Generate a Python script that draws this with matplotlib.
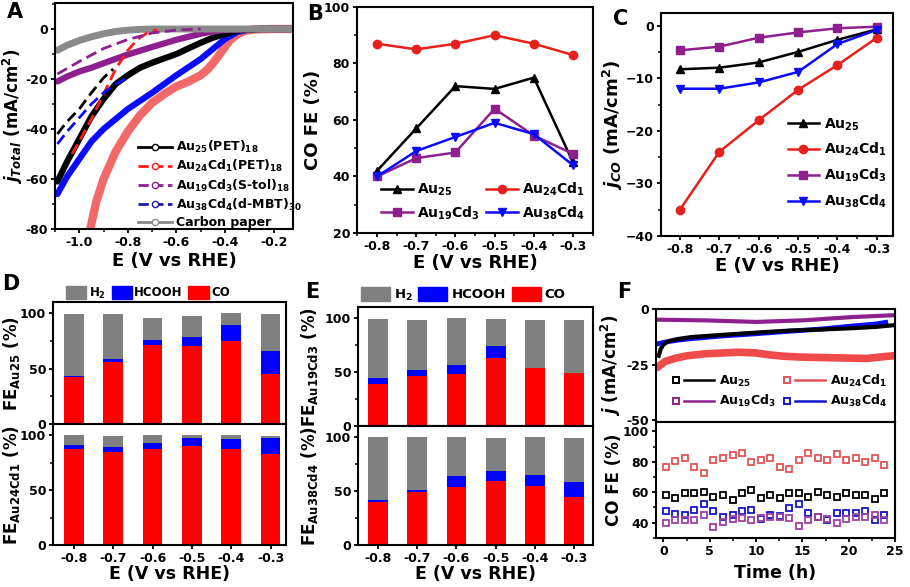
import matplotlib
matplotlib.use('Agg')
import matplotlib.pyplot as plt
import numpy as np
from matplotlib.ticker import MultipleLocator
from matplotlib.lines import Line2D
from matplotlib.patches import Patch
from matplotlib.legend_handler import HandlerBase

plt.rcParams.update({
    'font.family': 'DejaVu Sans',
    'font.weight': 'bold',
    'axes.labelweight': 'bold',
    'mathtext.fontset': 'custom',
    'mathtext.rm': 'DejaVu Sans:bold',
    'mathtext.bf': 'DejaVu Sans:bold',
    'mathtext.it': 'DejaVu Sans:bold:italic',
    'mathtext.default': 'bf',
    'axes.linewidth': 1.5,
    'xtick.major.width': 1.3, 'ytick.major.width': 1.3,
    'xtick.minor.width': 1.1, 'ytick.minor.width': 1.1,
    'xtick.major.size': 3, 'ytick.major.size': 3,
    'xtick.minor.size': 2, 'ytick.minor.size': 2,
    'xtick.major.pad': 2, 'ytick.major.pad': 2,
    'xtick.labelsize': 9, 'ytick.labelsize': 9,
})

# ---- colours
BLACK = 'black'
RED = '#ff1a1a'
PURPLE = '#8e1f8e'
BLUE = '#0a0aff'
GRAY = '#8a8a8a'

# ---- panel A: LSV curves (E in V, j in mA/cm2)
a_e_au25 = [-1.09, -1.05, -1.0, -0.95, -0.9, -0.85, -0.8, -0.75, -0.7, -0.6, -0.5, -0.45, -0.4, -0.35, -0.3, -0.25, -0.12]
a_j_au25 = [-61, -53, -44, -35, -28, -22, -18.5, -15.5, -13.5, -10, -5.5, -3.5, -2, -0.7, -0.2, 0, 0]
a_e_au24 = [-0.955, -0.93, -0.9, -0.85, -0.8, -0.75, -0.7, -0.65, -0.6, -0.55, -0.5, -0.47, -0.44, -0.41, -0.38, -0.35, -0.32, -0.28, -0.2, -0.12]
a_j_au24 = [-80, -69, -60, -49, -41, -34.5, -29.5, -26, -23, -21, -18.5, -16, -12.5, -8.5, -4.5, -2.2, -0.8, -0.2, 0, 0]
a_e_au19 = [-1.09, -1.05, -1.0, -0.95, -0.9, -0.8, -0.7, -0.6, -0.5, -0.45, -0.4, -0.3, -0.12]
a_j_au19 = [-21, -19, -17, -15.5, -13.7, -10.2, -7.2, -4.3, -1.9, -1, -0.4, 0, 0]
a_e_au38 = [-1.09, -1.05, -1.0, -0.95, -0.9, -0.85, -0.8, -0.7, -0.6, -0.5, -0.45, -0.4, -0.35, -0.3, -0.25, -0.12]
a_j_au38 = [-66, -59, -52, -45, -40, -36, -32, -25.5, -18.5, -12, -8, -4, -1.2, -0.2, 0, 0]
a_e_cp = [-1.09, -1.05, -1.0, -0.95, -0.9, -0.85, -0.8, -0.75, -0.7, -0.12]
a_j_cp = [-8.5, -6.5, -4.6, -3.1, -1.9, -1.0, -0.45, -0.15, 0, 0]
# thin dashed traces
a_e_au25_d = [-1.09, -1.05, -1.0, -0.95, -0.9, -0.86]
a_j_au25_d = [-42, -37, -32, -25.5, -19.5, -16]
a_e_au24_d = [-1.03, -1.0, -0.95, -0.9, -0.85, -0.8, -0.76, -0.72, -0.68]
a_j_au24_d = [-50, -45, -36, -26, -16, -8.5, -4.2, -1.5, -0.3]
a_e_au19_d = [-1.09, -1.0, -0.9, -0.8, -0.7, -0.6, -0.5]
a_j_au19_d = [-18, -13, -7.8, -4.2, -1.6, -0.4, 0]
a_e_au38_d = [-1.09, -1.05, -1.0, -0.95, -0.9, -0.85, -0.81]
a_j_au38_d = [-46, -41, -35.5, -30, -25.5, -22, -20]

# ---- panels B-E: potentials
potentials = [-0.8, -0.7, -0.6, -0.5, -0.4, -0.3]
tick_labels = ['-0.8', '-0.7', '-0.6', '-0.5', '-0.4', '-0.3']

# CO faradaic efficiency (%)
fe_au25 = [42, 57, 72, 71, 75, 45]
fe_au24 = [87, 85, 87, 90, 87, 83]
fe_au19 = [40, 46.5, 48.5, 64, 54.5, 48]
fe_au38 = [40, 49, 54, 59, 55, 44]

# partial CO current density (mA/cm2)
jco_au25 = [-8.3, -8.0, -7.0, -5.0, -2.7, -0.7]
jco_au24 = [-35, -24, -18, -12.2, -7.5, -2.3]
jco_au19 = [-4.7, -4.0, -2.3, -1.3, -0.5, -0.2]
jco_au38 = [-12, -12, -10.8, -8.8, -3.5, -0.8]

# product distribution (%): CO, HCOOH, H2
d_au25_co = [42, 56, 71, 70, 74.5, 45]
d_au25_hcooh = [1, 3, 5, 8, 14.5, 21]
d_au25_h2 = [56, 40, 20, 19, 11, 33]
d_au24_co = [87, 85, 87, 90, 87, 83]
d_au24_hcooh = [4, 4, 6, 7, 9, 14]
d_au24_h2 = [9, 10, 7, 3, 4, 2]
e_au19_co = [39, 46, 48.5, 63, 54, 49]
e_au19_hcooh = [5.5, 6, 8, 11, 0, 0]
e_au19_h2 = [54, 46, 43, 25, 44, 49]
e_au38_co = [40, 49, 54, 59, 55, 44]
e_au38_hcooh = [1.5, 1.5, 10, 9.5, 10, 14]
e_au38_h2 = [58.5, 49.5, 36, 30.5, 35, 41]

# ---- panel F: stability
f_t_au25 = [-0.5, -0.3, 0, 0.5, 1.5, 3, 6, 10, 13.5, 17, 20.5, 23, 24.8]
f_j_au25 = [-21, -18, -16, -14.5, -13.5, -12.6, -11.7, -10.6, -9.7, -9.2, -8.6, -8, -7.3]
f_t_au24 = [-0.5, 0.2, 1.2, 2.5, 4.5, 8, 10, 11.5, 13, 15, 18.5, 22, 23.5, 24.8]
f_j_au24 = [-25.7, -23.5, -22.2, -21, -20.1, -19.4, -19.7, -20.6, -21.2, -21.6, -21.9, -22.2, -21.5, -21]
f_t_au19 = [-0.5, 4.5, 10, 15, 20.5, 24.8]
f_j_au19 = [-4.8, -5.1, -5.8, -5.1, -3.6, -2.8]
f_t_au38 = [-0.5, 0, 1.5, 3, 6, 10, 13.5, 17, 20.5, 23, 24]
f_j_au38 = [-15.5, -15, -14, -13.3, -12.2, -11.1, -10, -9, -7.6, -6.7, -6]

fe_time = [0.3, 1.3, 2.3, 3.35, 4.4, 5.4, 6.45, 7.5, 8.5, 9.5, 10.55, 11.55, 12.6, 13.6,
           14.65, 15.65, 16.7, 17.7, 18.7, 19.75, 20.75, 21.8, 22.8, 23.8]
fe_t_au25 = [58, 56.4, 59.6, 59.6, 60.2, 56.9, 58, 55.1, 59.6, 61.3, 56.2, 58,
             56.2, 59.6, 59.6, 56.9, 60.2, 58, 56.9, 59.6, 58, 58, 55.8, 59.6]
fe_t_au24 = [76.4, 80.2, 82.4, 76.4, 72.9, 81.3, 82.4, 84.7, 85.8, 79.8, 81.3, 82.2,
             76.4, 75.1, 81.3, 85.8, 82.4, 81.3, 85.1, 81.3, 82.4, 79.8, 82.4, 77.6]
fe_t_au19 = [39.6, 41.8, 41.8, 41.8, 45.1, 36.9, 40.2, 42.4, 42.9, 41.8, 42.9, 43.6,
             43.6, 42.9, 38, 41.8, 43.6, 42.4, 39.6, 42.4, 43.6, 43.6, 44.7, 41.8]
fe_t_au38 = [47.6, 45.8, 44.7, 48.4, 52.4, 47.6, 43.6, 45.1, 47.6, 48.4, 42.4, 45.1,
             44, 49.8, 52.4, 46.2, 43.6, 41.8, 46.2, 46.2, 46.2, 47.6, 41.8, 45.1]

W, H = 910, 587
fig = plt.figure(figsize=(W / 100, H / 100), dpi=100)


def box(left, top, right, bottom):
    return fig.add_axes([left / W, 1 - bottom / H, (right - left) / W, (bottom - top) / H])


def anchor(x, y):
    return (x / W, 1 - y / H)


def style(ax):
    ax.tick_params(which='both', direction='out', top=False, right=False)


class MarkerThenLine(HandlerBase):
    # open square on the left, line on the right (panel F legend)
    def create_artists(self, legend, orig, xd, yd, w, h, fs, trans):
        y = h / 2 - yd
        c = orig.get_color()
        m = Line2D([-xd + 0.12 * w], [y], ls='none', marker='s', ms=5,
                   mfc='none', mec=c, mew=1.4, transform=trans)
        l = Line2D([-xd + 0.3 * w, -xd + w], [y, y], color=c, lw=1.8, transform=trans)
        return [m, l]


# ================= A
axA = box(55, 3, 293, 229)
style(axA)
axA.plot(a_e_au24, a_j_au24, color='#f36868', lw=6, solid_capstyle='round')
axA.plot(a_e_au38, a_j_au38, color=BLUE, lw=4.5, solid_capstyle='round')
axA.plot(a_e_au25, a_j_au25, color=BLACK, lw=4.5, solid_capstyle='round')
axA.plot(a_e_au19, a_j_au19, color=PURPLE, lw=4.5, solid_capstyle='round')
axA.plot(a_e_cp, a_j_cp, color=GRAY, lw=5, solid_capstyle='round')
axA.plot(a_e_au25_d, a_j_au25_d, color=BLACK, lw=2, ls=(0, (4, 2)))
axA.plot(a_e_au24_d, a_j_au24_d, color=RED, lw=2, ls=(0, (4, 2)))
axA.plot(a_e_au19_d, a_j_au19_d, color=PURPLE, lw=2, ls=(0, (4, 2)))
axA.plot(a_e_au38_d, a_j_au38_d, color=BLUE, lw=2, ls=(0, (4, 2)))
axA.set_xlim(-1.1, -0.12)
axA.set_ylim(-80, 10.4)
axA.xaxis.set_minor_locator(MultipleLocator(0.1))
axA.yaxis.set_minor_locator(MultipleLocator(10))
axA.set_xticks([-1.0, -0.8, -0.6, -0.4, -0.2])
axA.set_xticklabels(['-1.0', '-0.8', '-0.6', '-0.4', '-0.2'])
axA.set_yticks([0, -20, -40, -60, -80])
axA.set_yticklabels(['0', '-20', '-40', '-60', '-80'])
axA.set_xlabel('E (V vs RHE)', fontsize=13)
axA.set_ylabel(r'$\mathit{j}_{\mathit{Total}}$ (mA/cm$^2$)', fontsize=12)
axA.xaxis.set_label_coords(0.5, -0.1)
axA.yaxis.set_label_coords(-0.125, 0.5)
legA = [Line2D([], [], color=BLACK, lw=2, marker='o', ms=4.5, mfc='white', mec=BLACK),
        Line2D([], [], color=RED, lw=2, ls='--', marker='o', ms=4.5, mfc='white', mec=RED),
        Line2D([], [], color=PURPLE, lw=2, ls='--', marker='o', ms=4.5, mfc='white', mec=PURPLE),
        Line2D([], [], color='#1a1aa8', lw=2, ls='--', marker='o', ms=4.5, mfc='white', mec='#1a1aa8'),
        Line2D([], [], color=GRAY, lw=2, marker='o', ms=4.5, mfc='white', mec=GRAY)]
axA.legend(legA, ['Au$_{25}$(PET)$_{18}$', 'Au$_{24}$Cd$_1$(PET)$_{18}$', 'Au$_{19}$Cd$_3$(S-tol)$_{18}$',
                  'Au$_{38}$Cd$_4$(d-MBT)$_{30}$', 'Carbon paper'],
           loc='center left', bbox_to_anchor=anchor(128, 184), bbox_transform=fig.transFigure,
           frameon=False, fontsize=9, handlelength=2.7, handletextpad=0.3, labelspacing=0.25,
           borderpad=0.3)

# ================= B
axB = box(357, 7, 593, 233)
style(axB)
axB.plot(potentials, fe_au25, color=BLACK, lw=1.8, marker='^', ms=6)
axB.plot(potentials, fe_au24, color='#e8201c', lw=1.8, marker='o', ms=6)
axB.plot(potentials, fe_au19, color=PURPLE, lw=1.8, marker='s', ms=5.5)
axB.plot(potentials, fe_au38, color=BLUE, lw=1.8, marker='v', ms=6)
axB.set_xlim(-0.851, -0.249)
axB.set_ylim(20, 100)
axB.set_xticks(potentials)
axB.set_xticklabels(tick_labels)
axB.xaxis.set_minor_locator(MultipleLocator(0.05))
axB.yaxis.set_major_locator(MultipleLocator(20))
axB.yaxis.set_minor_locator(MultipleLocator(10))
axB.set_xlabel('E (V vs RHE)', fontsize=13)
axB.set_ylabel('CO FE (%)', fontsize=13)
axB.xaxis.set_label_coords(0.5, -0.095)
axB.yaxis.set_label_coords(-0.15, 0.5)
axB.legend(axB.lines[0:1] + axB.lines[2:3] + axB.lines[1:2] + axB.lines[3:4],
           ['Au$_{25}$', 'Au$_{19}$Cd$_3$', 'Au$_{24}$Cd$_1$', 'Au$_{38}$Cd$_4$'],
           ncol=2, loc='center left', bbox_to_anchor=anchor(370, 201), bbox_transform=fig.transFigure,
           frameon=False, fontsize=10, handlelength=2.3, handletextpad=0.3, labelspacing=0.45,
           columnspacing=0.4, borderpad=0.3)

# ================= C
axC = box(661, 13, 893, 236)
style(axC)
axC.plot(potentials, jco_au25, color=BLACK, lw=1.8, marker='^', ms=6, label='Au$_{25}$')
axC.plot(potentials, jco_au24, color='#e8201c', lw=1.8, marker='o', ms=6, label='Au$_{24}$Cd$_1$')
axC.plot(potentials, jco_au19, color=PURPLE, lw=1.8, marker='s', ms=5.5, label='Au$_{19}$Cd$_3$')
axC.plot(potentials, jco_au38, color=BLUE, lw=1.8, marker='v', ms=6, label='Au$_{38}$Cd$_4$')
axC.set_xlim(-0.848, -0.259)
axC.set_ylim(-40, 2.4)
axC.set_xticks(potentials)
axC.set_xticklabels(tick_labels)
axC.xaxis.set_minor_locator(MultipleLocator(0.05))
axC.yaxis.set_major_locator(MultipleLocator(10))
axC.yaxis.set_minor_locator(MultipleLocator(5))
axC.set_xlabel('E (V vs RHE)', fontsize=13)
axC.set_ylabel(r'$\mathit{j}_{\mathit{CO}}$ (mA/cm$^2$)', fontsize=13)
axC.xaxis.set_label_coords(0.5, -0.095)
axC.yaxis.set_label_coords(-0.155, 0.5)
axC.legend(loc='center left', bbox_to_anchor=anchor(777, 163), bbox_transform=fig.transFigure,
           frameon=False, fontsize=10, handlelength=2.2, handletextpad=0.35, labelspacing=0.6,
           borderpad=0.3)


# ================= D / E stacked bars
def bars(ax, co, hcooh, h2):
    co = np.array(co)
    hc = np.array(hcooh)
    ax.bar(potentials, co, width=0.05, color='#ff0000', linewidth=0)
    ax.bar(potentials, hc, width=0.05, bottom=co, color='#0000ff', linewidth=0)
    ax.bar(potentials, h2, width=0.05, bottom=co + hc, color='#808080', linewidth=0)
    ax.set_ylim(0, 110)
    ax.set_yticks([0, 50, 100])
    ax.yaxis.set_minor_locator(MultipleLocator(25))
    ax.set_xticks(potentials)
    ax.set_xticklabels(tick_labels)
    style(ax)


bar_handles = [Patch(color='#808080'), Patch(color='#0000ff'), Patch(color='#ff0000')]
bar_labels = ['H$_2$', 'HCOOH', 'CO']

axD1 = box(53, 302, 286, 424)
axD2 = box(53, 424, 286, 545)
bars(axD1, d_au25_co, d_au25_hcooh, d_au25_h2)
bars(axD2, d_au24_co, d_au24_hcooh, d_au24_h2)
for ax in (axD1, axD2):
    ax.set_xlim(-0.853, -0.261)
axD1.tick_params(axis='x', which='both', bottom=False, labelbottom=False)
axD2.set_xlabel('E (V vs RHE)', fontsize=12.5)
axD2.xaxis.set_label_coords(0.5, -0.165)
axD1.set_ylabel('FE$_{Au25}$ (%)', fontsize=12)
axD2.set_ylabel('FE$_{Au24Cd1}$ (%)', fontsize=12)
axD1.yaxis.set_label_coords(-0.135, 0.5)
axD2.yaxis.set_label_coords(-0.135, 0.5)
axD1.legend(bar_handles, bar_labels, ncol=3, loc='center', bbox_to_anchor=anchor(148, 293),
            bbox_transform=fig.transFigure, frameon=False, fontsize=8.5, handlelength=1.7,
            handleheight=1.2, handletextpad=0.2, columnspacing=0.5, borderpad=0.1)

axE1 = box(358, 307, 593, 426)
axE2 = box(358, 426, 593, 545)
bars(axE1, e_au19_co, e_au19_hcooh, e_au19_h2)
bars(axE2, e_au38_co, e_au38_hcooh, e_au38_h2)
for ax in (axE1, axE2):
    ax.set_xlim(-0.851, -0.252)
axE1.tick_params(axis='x', which='both', bottom=False, labelbottom=False)
axE2.set_xlabel('E (V vs RHE)', fontsize=12.5)
axE2.xaxis.set_label_coords(0.5, -0.165)
axE1.set_ylabel('FE$_{Au19Cd3}$ (%)', fontsize=12)
axE2.set_ylabel('FE$_{Au38Cd4}$ (%)', fontsize=12)
axE1.yaxis.set_label_coords(-0.16, 0.5)
axE2.yaxis.set_label_coords(-0.16, 0.5)
axE1.legend(bar_handles, bar_labels, ncol=3, loc='center', bbox_to_anchor=anchor(463, 295),
            bbox_transform=fig.transFigure, frameon=False, fontsize=9.5, handlelength=2.2,
            handleheight=1.15, handletextpad=0.3, columnspacing=0.45, borderpad=0.1)

# ================= F
axF1 = box(656, 309, 895, 422)
axF2 = box(656, 422, 895, 538)
style(axF1)
style(axF2)
axF1.plot(f_t_au24, f_j_au24, color='#ef4b4b', lw=5.5)
axF1.plot(f_t_au38, f_j_au38, color=BLUE, lw=3.5)
axF1.plot(f_t_au25, f_j_au25, color=BLACK, lw=3)
axF1.plot(f_t_au19, f_j_au19, color=PURPLE, lw=3)
axF1.set_xlim(-0.8, 25)
axF1.set_ylim(-50.7, 0)
axF1.set_yticks([0, -25, -50])
axF1.set_yticklabels(['0', '-25', '-50'])
axF1.tick_params(axis='x', which='both', bottom=False, labelbottom=False)
axF1.set_ylabel(r'$\mathit{j}$ (mA/cm$^2$)', fontsize=12)
axF1.yaxis.set_label_coords(-0.14, 0.5)
hF = [Line2D([], [], color=BLACK), Line2D([], [], color='#e05555'),
      Line2D([], [], color=PURPLE), Line2D([], [], color='#1414c8')]
axF1.legend([hF[0], hF[2], hF[1], hF[3]],
            ['Au$_{25}$', 'Au$_{19}$Cd$_3$', 'Au$_{24}$Cd$_1$', 'Au$_{38}$Cd$_4$'],
            handler_map={Line2D: MarkerThenLine()}, ncol=2, loc='center left',
            bbox_to_anchor=anchor(661, 391), bbox_transform=fig.transFigure, frameon=False,
            fontsize=9, handlelength=3.4, handletextpad=0.45, labelspacing=0.35,
            columnspacing=0.5, borderpad=0.3)

axF2.plot(fe_time, fe_t_au24, ls='none', marker='s', ms=5, mfc='none', mec='#e05555', mew=1.3)
axF2.plot(fe_time, fe_t_au25, ls='none', marker='s', ms=5, mfc='none', mec=BLACK, mew=1.3)
axF2.plot(fe_time, fe_t_au38, ls='none', marker='s', ms=5, mfc='none', mec='#1414c8', mew=1.3)
axF2.plot(fe_time, fe_t_au19, ls='none', marker='s', ms=5, mfc='none', mec='#a040a0', mew=1.3)
axF2.set_xlim(-0.8, 25)
axF2.set_ylim(29.8, 106.2)
axF2.set_yticks([40, 60, 80, 100])
axF2.yaxis.set_minor_locator(MultipleLocator(10))
axF2.set_xticks([0, 5, 10, 15, 20, 25])
axF2.xaxis.set_minor_locator(MultipleLocator(2.5))
axF2.set_xlabel('Time (h)', fontsize=12.5)
axF2.xaxis.set_label_coords(0.5, -0.22)
axF2.set_ylabel('CO FE (%)', fontsize=12)
axF2.yaxis.set_label_coords(-0.14, 0.5)

# ================= panel letters
for letter, x, y in [('A', 7, 18), ('B', 307, 20), ('C', 613, 25),
                     ('D', 2, 290), ('E', 305, 298), ('F', 617, 298)]:
    fig.text(x / W, 1 - y / H, letter, fontsize=15, fontweight='bold', va='baseline', ha='left')

fig.savefig('out.png', dpi=100)
